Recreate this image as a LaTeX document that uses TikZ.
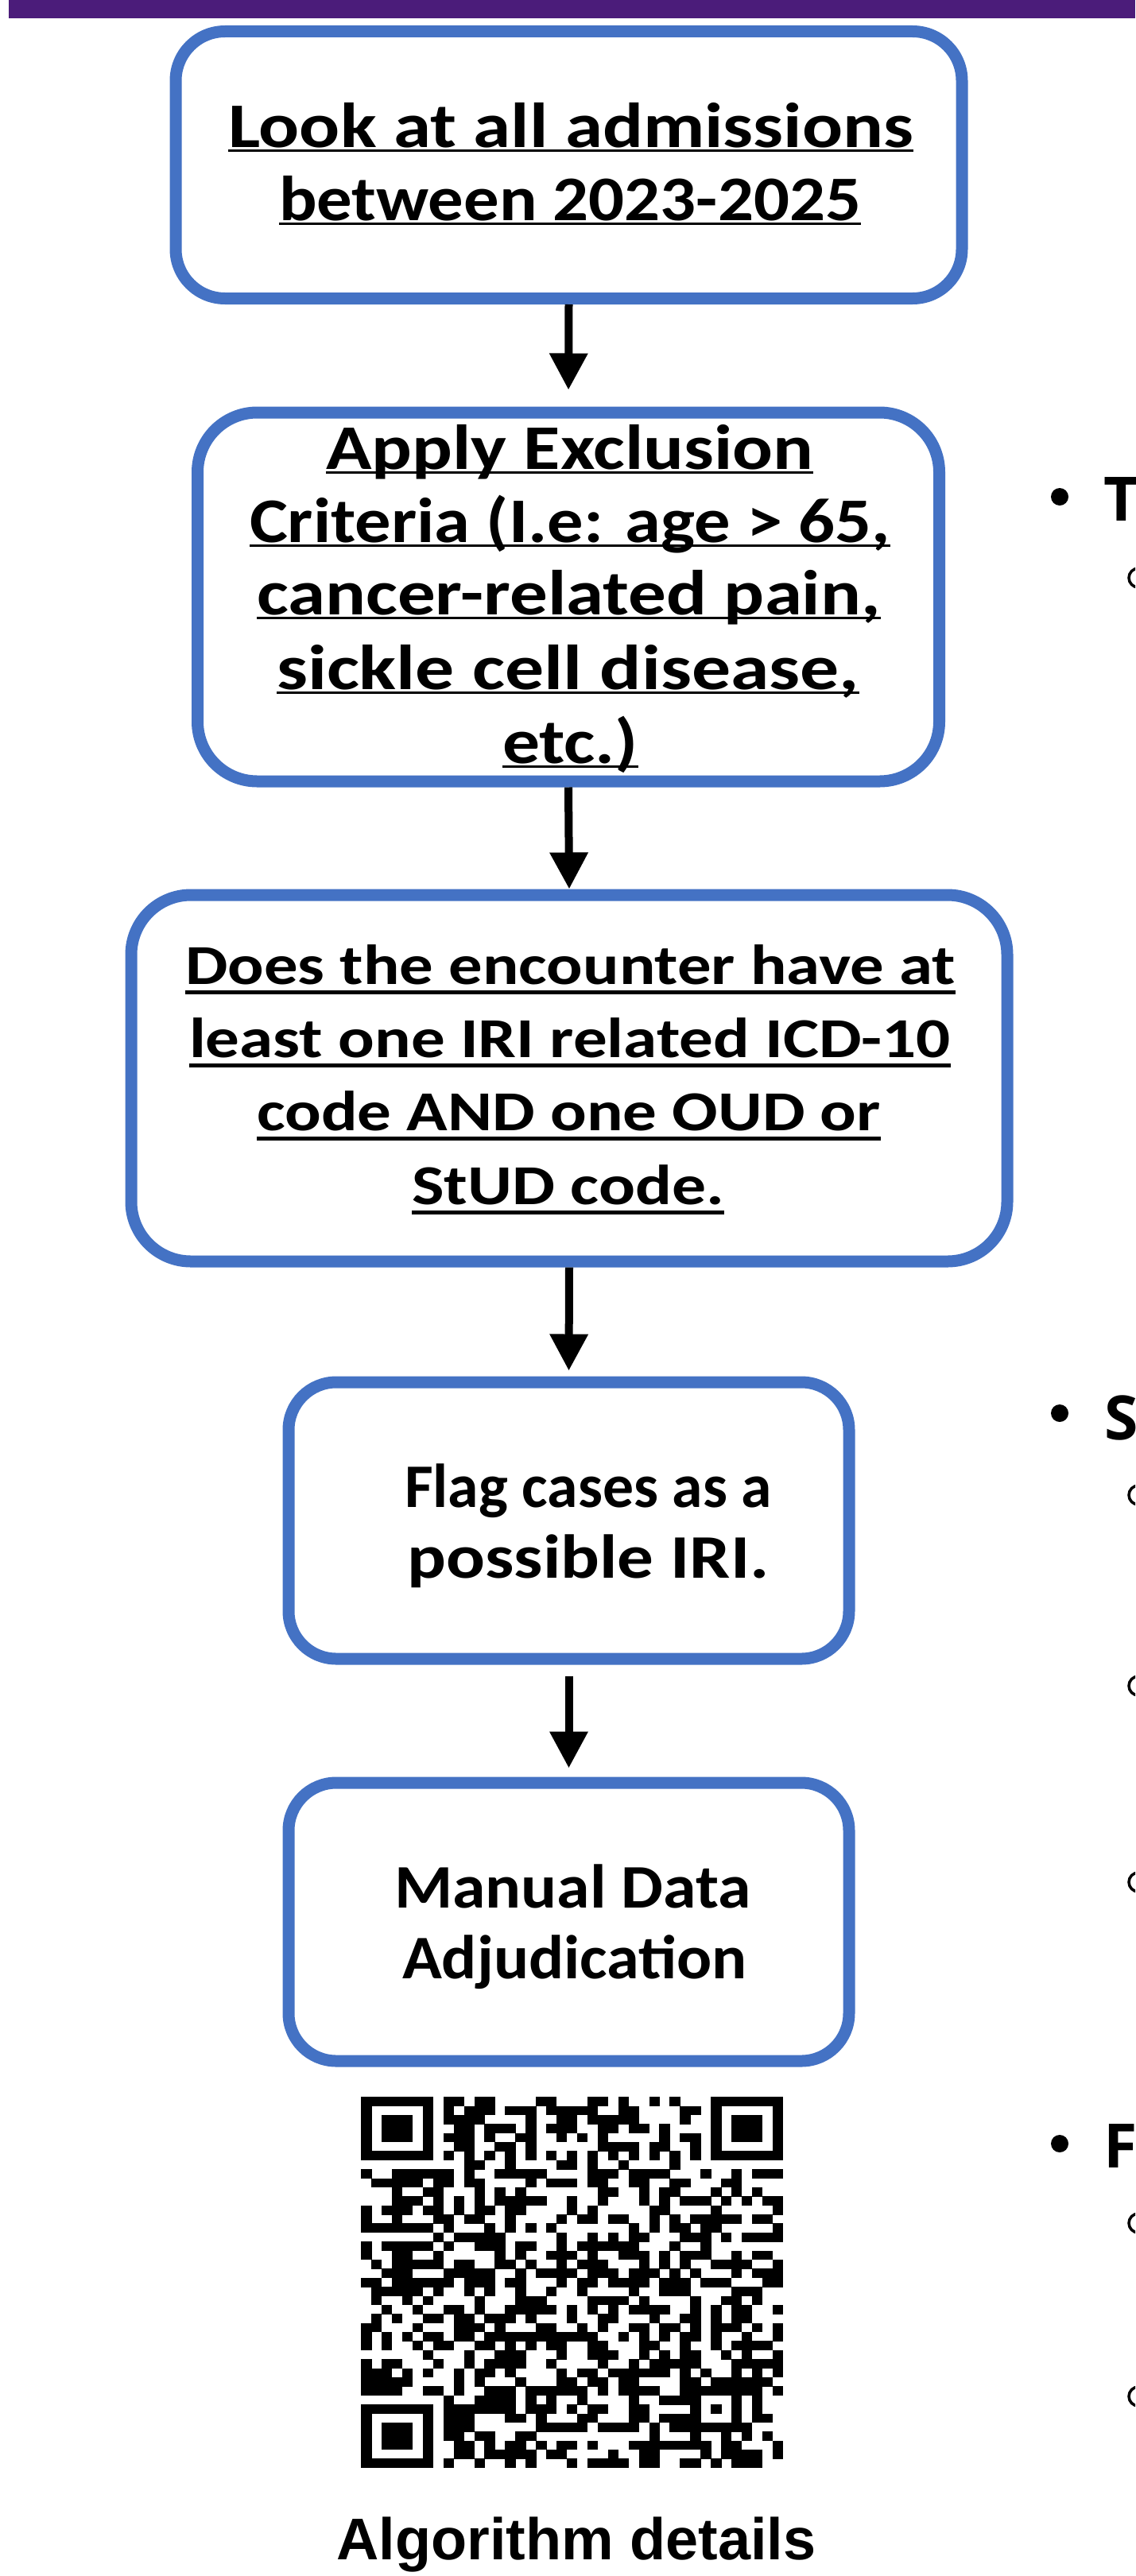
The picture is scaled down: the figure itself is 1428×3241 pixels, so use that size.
\documentclass[tikz,border=0pt]{standalone}
\usepackage{fontspec}
\usepackage{graphicx}
\usetikzlibrary{arrows.meta}
\newfontfamily\boxfont{Carlito}
\newfontfamily\capfont{Liberation Sans}
\newfontfamily\bulfont{Open Sans}
\definecolor{boxblue}{HTML}{4472C4}
\definecolor{bandpurple}{HTML}{4B1C7A}
\newsavebox\fitbox
\newsavebox\ulbox
\newcommand\fitw[2]{\sbox\fitbox{#2}\pgfmathsetmacro\fitsx{#1/\wd\fitbox}\scalebox{\fitsx}[1]{\usebox\fitbox}}
\newcommand\ulin[3]{\sbox\ulbox{#3}\makebox[0pt][l]{\usebox\ulbox}\rule[\dimexpr-#1-#2\relax]{\wd\ulbox}{#2}}
\newcommand\qrrow[2]{\foreach \qa/\qb in {#2}{\fill ({454.4+\qa*12.94-0.2},{2638.3+#1*11.383-0.2}) rectangle ({454.4+(\qb+1)*12.94+0.2},{2638.3+(#1+1)*11.383+0.2});}}
\begin{document}
\begin{tikzpicture}[x=1pt,y=-1pt,
  flowbox/.style={draw=boxblue, line width=15pt, fill=white, inner sep=0pt, rounded corners=#1},
  txtA/.style={anchor=base, inner sep=0pt, font=\boxfont\bfseries\fontsize{80}{96}\selectfont},
  txtB/.style={anchor=base, inner sep=0pt, font=\boxfont\bfseries\fontsize{71}{85}\selectfont},
  txtC/.style={anchor=base, inner sep=0pt, font=\boxfont\bfseries\fontsize{78}{94}\selectfont},
  bigbul/.style={anchor=base west, inner sep=0pt, font=\bulfont\bfseries\fontsize{77}{90}\selectfont},
  flowarrow/.style={line width=10pt, -{Triangle[width=46pt,length=46pt]}},
  subbul/.style={line width=3.5pt},
]
\useasboundingbox (0,0) rectangle (1428,3241);
\clip (0,0) rectangle (1428,3241);
\fill[white] (0,0) rectangle (1428,3241);
% top band
\fill[bandpurple] (11,0) rectangle (1428,23);

% boxes
\node[flowbox=62pt, minimum width=989pt, minimum height=336pt] (b1) at (715.5,207.5) {};
\node[flowbox=75pt, minimum width=933pt, minimum height=464pt] (b2) at (715,751) {};
\node[flowbox=75pt, minimum width=1102pt, minimum height=461pt] (b3) at (716,1356.5) {};
\node[flowbox=60pt, minimum width=705pt, minimum height=348pt] (b4) at (715.5,1913) {};
\node[flowbox=60pt, minimum width=705pt, minimum height=350pt] (b5) at (715.5,2418) {};

% arrows
\draw[flowarrow, shorten >=21pt] (b1.south) -- (b2.north);
\draw[flowarrow, shorten >=0pt] (b2.south) -- (b3.north);
\draw[flowarrow, shorten >=7pt] (b3.south) -- (b4.north);
\draw[flowarrow, shorten <=14pt, shorten >=11pt] (b4.south) -- (b5.north);

% box 1 text
\node[txtA] (b1a) at (718,185) {\fitw{862}{\ulin{3pt}{3pt}{Look at all admissions}}};
\node[txtA] (b1b) at (717,277) {\fitw{732}{\ulin{3pt}{3pt}{between 2023-2025}}};
% box 2 text
\node[txtA] (b2a) at (716.5,590) {\fitw{613}{\ulin{3pt}{3pt}{Apply Exclusion}}};
\node[txtA] (b2b) at (717,682) {\fitw{806}{\ulin{3pt}{3pt}{Criteria (I.e: age > 65,}}};
\node[txtA] (b2c) at (715.5,773) {\fitw{785}{\ulin{3pt}{3pt}{cancer-related pain,}}};
\node[txtA] (b2d) at (714.5,867) {\fitw{733}{\ulin{3pt}{3pt}{sickle cell disease,}}};
\node[txtA] (b2e) at (717.5,960) {\fitw{171}{\ulin{3pt}{3pt}{etc.)}}};
% box 3 text
\node[txtB] (b3a) at (717.5,1238) {\fitw{969}{\ulin{8pt}{4.5pt}{Does the encounter have at}}};
\node[txtB] (b3b) at (717,1330) {\fitw{958}{\ulin{8pt}{4.5pt}{least one IRI related ICD-10}}};
\node[txtB] (b3c) at (715.5,1422) {\fitw{785}{\ulin{8pt}{4.5pt}{code AND one OUD or}}};
\node[txtB] (b3d) at (714.5,1515) {\fitw{393}{\ulin{8pt}{4.5pt}{StUD code.}}};
% box 4 text
\node[txtC] (b4a) at (740,1896) {\fitw{462}{Flag cases as a}};
\node[txtC] (b4b) at (740,1985) {\fitw{455}{possible IRI.}};
% box 5 text
\node[txtC] (b5a) at (720.5,2400) {\fitw{449}{Manual Data}};
\node[txtC] (b5b) at (723,2489) {\fitw{434}{Adjudication}};

% QR code
\qrrow{0}{0/6,8/9,11/12,17/18,22/23,25/25,28/28,30/30,34/40}
\qrrow{1}{0/0,6/6,8/8,10/12,14/16,18/22,25/26,31/32,34/34,40/40}
\qrrow{2}{0/0,2/4,6/6,8/11,16/16,19/20,22/26,31/31,34/34,36/38,40/40}
\qrrow{3}{0/0,2/4,6/6,9/10,12/14,16/16,18/20,23/24,26/27,29/29,34/34,36/38,40/40}
\qrrow{4}{0/0,2/4,6/6,8/10,12/12,15/16,19/19,21/21,23/23,29/29,31/32,34/34,36/38,40/40}
\qrrow{5}{0/0,6/6,9/10,13/14,16/16,23/26,28/29,32/32,34/34,40/40}
\qrrow{6}{0/6,8/8,10/10,12/12,14/14,16/16,18/18,20/20,22/22,24/24,26/26,28/28,30/30,32/32,34/40}
\qrrow{7}{10/11,14/14,19/20,22/22,25/25,30/30}
\qrrow{8}{0/0,3/8,10/10,13/17,22/24,26/29,33/33,36/36,38/40}
\qrrow{9}{1/5,7/8,10/11,16/16,18/20,22/23,26/27,30/31,35/36}
\qrrow{10}{3/3,6/7,11/11,13/13,15/15,23/24,27/27,29/30,34/34,36/36,38/38}
\qrrow{11}{3/5,7/7,9/9,11/11,13/17,20/20,23/23,27/27,29/29,31/33,35/35,37/37,39/40}
\qrrow{12}{0/0,2/4,6/7,9/9,11/12,14/15,20/20,22/22,28/29,34/34,40/40}
\qrrow{13}{0/0,3/3,7/8,10/11,14/14,19/19,21/22,24/25,28/28,30/30,32/36,38/39}
\qrrow{14}{0/6,8/8,12/12,14/14,16/16,18/18,26/26,28/28,30/31,33/34,40/40}
\qrrow{15}{7/7,9/13,19/19,22/22,24/24,26/27,31/33,35/35,37/40}
\qrrow{16}{0/0,2/6,8/8,11/13,15/16,19/19,21/26,30/30,33/33}
\qrrow{17}{0/0,3/4,7/7,13/13,15/15,18/20,22/22,25/27,29/29,31/33,36/36,38/39}
\qrrow{18}{1/1,3/7,9/10,13/14,16/16,19/19,21/23,27/27,29/29,31/31,34/37,40/40}
\qrrow{19}{2/4,8/12,15/15,17/20,22/24,26/28,30/30,32/32,36/36,38/40}
\qrrow{20}{0/1,3/8,10/12,14/15,19/19,21/22,24/27,29/31,33/35,39/40}
\qrrow{21}{1/5,7/7,10/10,12/12,15/15,18/18,21/21,26/26,29/31,36/38}
\qrrow{22}{1/1,4/4,6/6,11/11,15/17,22/25,27/27,32/32,35/36,38/38}
\qrrow{23}{2/2,5/5,8/9,11/11,14/18,20/20,22/22,24/24,26/29,32/32,34/34,36/37,40/40}
\qrrow{24}{1/1,3/3,6/7,9/10,12/14,16/16,20/20,23/24,28/28,31/32,34/34,36/37}
\qrrow{25}{0/1,5/5,9/11,13/13,17/18,21/21,23/23,26/27,29/30,32/32,34/36,38/38,40/40}
\qrrow{26}{0/0,2/2,4/4,6/7,9/10,12/22,25/25,27/27,29/29,31/32,34/34,37/37,40/40}
\qrrow{27}{0/0,2/2,5/5,7/8,11/12,14/14,16/16,18/19,22/23,27/28,31/31,34/34,36/39}
\qrrow{28}{6/6,10/10,13/15,19/19,22/24,27/27,29/29,31/32,35/35,37/37,40/40}
\qrrow{29}{0/0,2/3,7/7,10/10,12/15,18/18,23/23,26/26,28/32,36/40}
\qrrow{30}{0/2,4/4,6/6,9/9,11/12,14/14,19/19,21/22,24/29,31/31,33/33,36/36,38/38,40/40}
\qrrow{31}{0/4,9/9,11/11,15/15,19/20,22/23,25/26,31/32,34/39}
\qrrow{32}{0/3,6/7,9/9,12/14,16/21,23/23,25/28,31/38,40/40}
\qrrow{33}{8/8,11/14,16/16,18/18,21/21,26/26,29/32,36/36,38/38}
\qrrow{34}{0/6,8/14,16/18,20/20,22/23,26/27,32/32,34/34,36/36,38/38}
\qrrow{35}{0/0,6/6,8/10,14/15,17/17,21/22,26/27,29/32,36/36,38/39}
\qrrow{36}{0/0,2/4,6/6,8/10,17/21,23/26,28/28,30/37}
\qrrow{37}{0/0,2/4,6/6,8/9,11/12,15/16,28/28,32/32,35/35,37/37,39/39}
\qrrow{38}{0/0,2/4,6/6,9/10,12/12,14/15,17/17,19/20,22/22,26/33,35/36,40/40}
\qrrow{39}{0/0,6/6,9/10,12/16,18/19,24/24,27/28,33/33,35/38,40/40}
\qrrow{40}{0/6,8/8,11/11,14/14,16/16,20/20,22/25,27/28,31/32,34/34,36/38}

\node[anchor=base, inner sep=0pt, font=\capfont\bfseries\fontsize{74}{88}\selectfont] (alg) at (725,3220) {\fitw{603}{Algorithm details}};

% right column (cut off)
\fill (1333,625) circle[radius=11];
\fill (1333,1778) circle[radius=11];
\fill (1333,2697) circle[radius=11];
\node[bigbul] (hT) at (1388,655) {T};
\node[bigbul] (hS) at (1389,1811) {S};
\node[bigbul] (hF) at (1388,2727) {F};
\foreach \yy in {727,1881,2121,2368,2797,3015}
  \draw[subbul] (1432,\yy) circle[radius=12];
\end{tikzpicture}
\end{document}
